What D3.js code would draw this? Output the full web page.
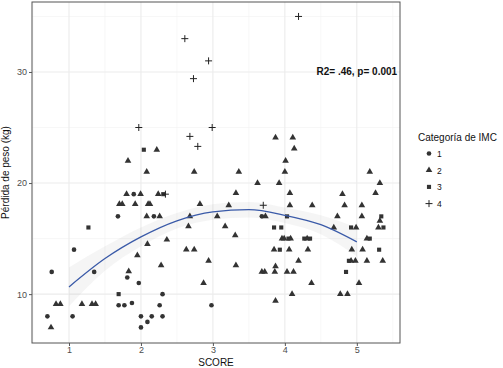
<!DOCTYPE html>
<html>
<head>
<meta charset="utf-8">
<script src="https://cdn.jsdelivr.net/npm/d3@7"></script>
<style>
  body { margin: 0; background: #fff; }
  text { font-family: "Liberation Sans", Arial, sans-serif; }
</style>
</head>
<body>
<div id="chart"></div>
<script>
// points per IMC category: [score, weight loss]
var imc1 = [[1.07,14],[0.76,12],[1.35,12],[0.70,8],[1.05,8],
    [1.90,19],[1.68,17],[2.18,17],[1.81,11.5],[1.97,11],[2.30,10],[1.69,9],[1.77,9],
    [1.875,9.2],[2.26,9],[2.0,8],[2.15,8],[2.30,8],[2.09,7.5],[2.0,7],[2.98,9],[3.68,17]];

var imc2 = [[0.82,9.1],[0.88,9.1],[1.18,9.1],[1.32,9.1],[1.37,9.1],[0.75,7],
    [2.22,23],[1.82,22],[2.08,21],[1.80,19],[1.995,19],[2.24,19],
    [1.70,18.1],[1.74,18.1],[1.92,18.1],[2.10,18.1],[2.125,18.1],
    [2.08,17],[2.26,17],[2.36,14.9],[2.09,14.5],[1.95,13.5],[2.28,12.6],[1.83,12.05],
    [2.74,21],[3.36,21],[3.32,19.1],[2.82,18.1],[3.22,18],[2.68,17],[3.06,17],[2.66,16.1],
    [3.17,16.1],[3.31,15.3],[2.63,14],[2.74,14],[2.94,13],[3.32,12.6],[2.87,11],
    [3.87,24.1],[4.11,24.1],[4.13,23.1],[4.01,22],[4.0,21],[3.62,20],[3.92,20],[4.07,19.1],
    [4.07,18],[4.38,18],[3.73,17],[3.96,15],[3.99,15],[4.08,15],[4.31,15],[3.85,14],[4.06,14],
    [4.32,14],[4.19,13],[3.87,12.5],[3.68,12],[3.72,12],[3.86,12],[4.03,12],[4.12,12],
    [4.37,11],[4.10,10],[3.87,9.4],
    [5.18,21],[5.32,20],[4.80,19],[5.26,19.1],[4.83,18],[5.07,18],[4.73,17],[5.07,17],
    [5.32,16.6],[4.68,16],[4.99,16],[5.30,16],[5.14,15],[4.93,14],[5.08,14],[4.92,13],
    [4.98,13],[5.14,13],[5.36,13],[5.03,11],[4.77,10],[4.87,10]];

var imc3 = [[1.27,16],[2.04,23],[2.31,19],[1.69,10],[4.03,17],[3.85,16],[3.95,16],
    [4.05,15],[4.27,15],[4.35,15],[3.93,14],[5.34,17],[4.92,16],[5.37,16],[5.18,15],
    [5.31,14],[4.89,13],[4.85,12]];

var imc4 = [[1.97,25],[2.34,19],[2.99,25],[2.68,24.2],[2.79,23.3],[2.61,33],[2.94,31],
    [2.73,29.4],[4.19,35],[3.70,18]];

// fitted curve: score, fit, lower, upper
var fitX  = [1.0, 1.5, 2.0, 2.5, 3.0, 3.5, 4.0, 4.5, 5.0];
var fitY  = [10.65, 13.2, 15.15, 16.6, 17.4, 17.6, 17.1, 16.25, 14.7];
var fitLo = [8.9, 12.1, 14.3, 15.9, 16.7, 16.9, 16.4, 15.4, 13.4];
var fitHi = [12.4, 14.3, 16.0, 17.3, 18.1, 18.3, 17.8, 17.1, 16.0];

var categories = ["1", "2", "3", "4"];
var xTicks = [1, 2, 3, 4, 5];
var yTicks = [10, 20, 30];
var annotation = "R2= .46, p= 0.001";

var width = 503, height = 368;
var margin = {top: 2, right: 103, bottom: 25, left: 32};
var pw = width - margin.left - margin.right,
    ph = height - margin.top - margin.bottom;

var svg = d3.select("#chart").append("svg")
    .attr("width", width)
    .attr("height", height);

var g = svg.append("g")
    .attr("transform", "translate(" + margin.left + "," + margin.top + ")");

var x = d3.scaleLinear().domain([0.486, 5.6]).range([0, pw]);
var y = d3.scaleLinear().domain([5.6, 36.3]).range([ph, 0]);

// grid
var minorX = d3.range(0.5, 5.6, 1), minorY = [15, 25, 35];
g.selectAll(".gxm").data(minorX).enter().append("line")
    .attr("x1", d => x(d)).attr("x2", d => x(d)).attr("y1", 0).attr("y2", ph)
    .attr("stroke", "#f2f2f2").attr("stroke-width", 0.6);
g.selectAll(".gym").data(minorY).enter().append("line")
    .attr("y1", d => y(d)).attr("y2", d => y(d)).attr("x1", 0).attr("x2", pw)
    .attr("stroke", "#f2f2f2").attr("stroke-width", 0.6);
g.selectAll(".gx").data(xTicks).enter().append("line")
    .attr("x1", d => x(d)).attr("x2", d => x(d)).attr("y1", 0).attr("y2", ph)
    .attr("stroke", "#ebebeb").attr("stroke-width", 1.1);
g.selectAll(".gy").data(yTicks).enter().append("line")
    .attr("y1", d => y(d)).attr("y2", d => y(d)).attr("x1", 0).attr("x2", pw)
    .attr("stroke", "#ebebeb").attr("stroke-width", 1.1);

// confidence band + fit
var fit = fitX.map(function (v, i) {
    return {x: v, y: fitY[i], lo: fitLo[i], hi: fitHi[i]};
});
g.append("path")
    .datum(fit)
    .attr("fill", "#999999").attr("fill-opacity", 0.1)
    .attr("d", d3.area().curve(d3.curveMonotoneX)
        .x(d => x(d.x)).y0(d => y(d.lo)).y1(d => y(d.hi)));

// points
var shapes = {
    "1": d3.symbol().type(d3.symbolCircle).size(17),
    "2": d3.symbol().type(d3.symbolTriangle).size(19),
    "3": d3.symbol().type(d3.symbolSquare).size(17)
};
function drawPts(data, cat) {
    if (cat == "4") {
        g.selectAll(".p4").data(data).enter().append("path")
            .attr("d", "M-3.5,0H3.5M0,-3.5V3.5")
            .attr("transform", d => "translate(" + x(d[0]) + "," + y(d[1]) + ")")
            .attr("stroke", "#222").attr("stroke-width", 1).attr("fill", "none");
    } else {
        g.selectAll(".p" + cat).data(data).enter().append("path")
            .attr("d", shapes[cat])
            .attr("transform", d => "translate(" + x(d[0]) + "," + y(d[1]) + ")")
            .attr("fill", "#333");
    }
}
drawPts(imc1, "1");
drawPts(imc2, "2");
drawPts(imc3, "3");
drawPts(imc4, "4");

g.append("path")
    .datum(fit)
    .attr("fill", "none").attr("stroke", "#3a5aa8").attr("stroke-width", 1.3)
    .attr("d", d3.line().curve(d3.curveMonotoneX).x(d => x(d.x)).y(d => y(d.y)));

g.append("text")
    .attr("x", x(5.0)).attr("y", y(30) + 3.5)
    .attr("text-anchor", "middle")
    .style("font-size", "10px").style("font-weight", "bold")
    .attr("fill", "#111")
    .text(annotation);

// panel border
g.append("rect").attr("width", pw).attr("height", ph)
    .attr("fill", "none").attr("stroke", "#555").attr("stroke-width", 1);

// axes
var xAxis = g.append("g").attr("transform", "translate(0," + ph + ")")
    .call(d3.axisBottom(x).tickValues(xTicks).tickSize(3).tickPadding(1).tickFormat(d3.format("d")));
var yAxis = g.append("g")
    .call(d3.axisLeft(y).tickValues(yTicks).tickSize(3).tickPadding(2));
[xAxis, yAxis].forEach(function (a) {
    a.select(".domain").remove();
    a.selectAll("line").attr("stroke", "#555");
    a.selectAll("text").attr("fill", "#4d4d4d")
        .style("font-size", "9px").style("font-family", "Liberation Sans, Arial, sans-serif");
});

svg.append("text")
    .attr("x", margin.left + pw / 2).attr("y", 366)
    .attr("text-anchor", "middle").style("font-size", "10px").attr("fill", "#111")
    .text("SCORE");
svg.append("text")
    .attr("transform", "translate(9," + (margin.top + ph / 2) + ") rotate(-90)")
    .attr("text-anchor", "middle").style("font-size", "10px").attr("fill", "#111")
    .text("Pérdida de peso (kg)");

// legend
var legend = svg.append("g").attr("transform", "translate(418,0)");
legend.append("text").attr("x", 0).attr("y", 141)
    .style("font-size", "10px").attr("fill", "#111")
    .text("Categoría de IMC");
var item = legend.selectAll(".legend").data(categories).enter().append("g")
    .attr("class", "legend")
    .attr("transform", (d, i) => "translate(11," + (153.5 + i * 16.7) + ")");
item.each(function (d) {
    var s = d3.select(this);
    if (d == "4") {
        s.append("path").attr("d", "M-3.5,0H3.5M0,-3.5V3.5")
            .attr("stroke", "#222").attr("stroke-width", 1);
    } else {
        s.append("path").attr("d", shapes[d]).attr("fill", "#333");
    }
});
item.append("text").attr("x", 8).attr("y", 3.3)
    .style("font-size", "8.5px").attr("fill", "#111")
    .text(d => d);
</script>
</body>
</html>
